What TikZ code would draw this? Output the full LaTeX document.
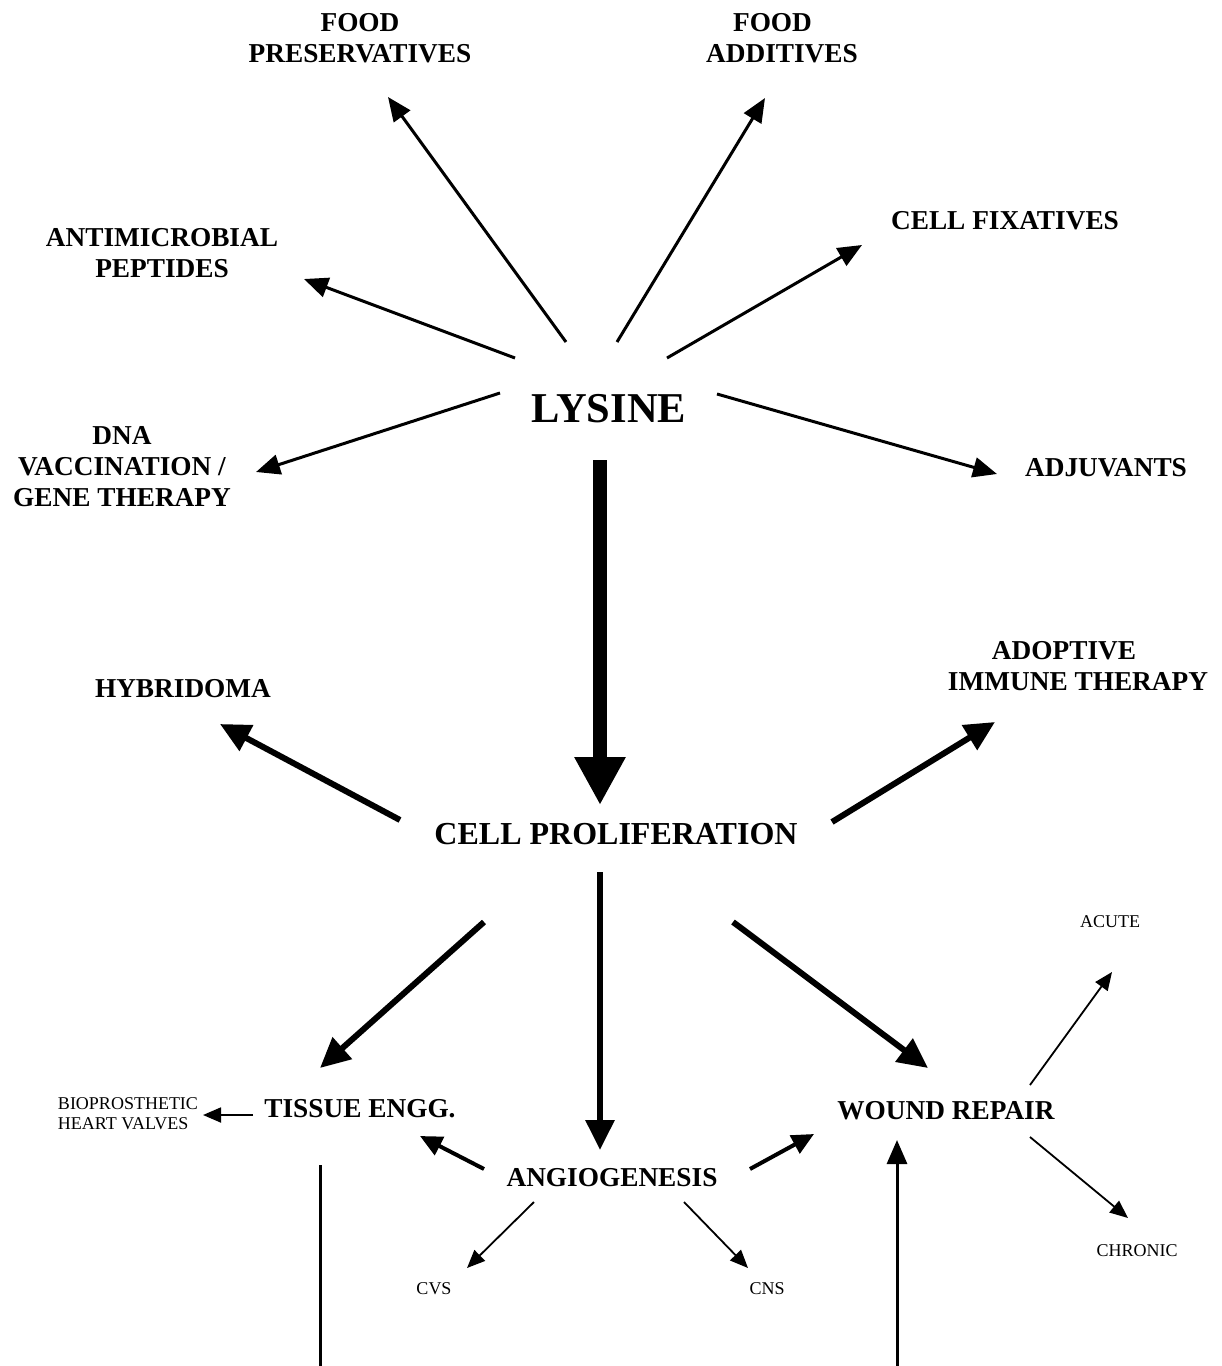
\documentclass[tikz,border=0pt]{standalone}
\usepackage{fontspec}
\setmainfont{Liberation Serif}
\usetikzlibrary{arrows.meta,calc}
\tikzset{
  big/.style={font=\bfseries\fontsize{27.3}{31}\selectfont, align=center, inner sep=0pt},
  huge/.style={font=\bfseries\fontsize{42.5}{48}\selectfont, inner sep=0pt},
  prolif/.style={font=\bfseries\fontsize{32}{38}\selectfont, inner sep=0pt},
  small/.style={font=\fontsize{18}{20}\selectfont, inner sep=0pt},
  arA/.style={line width=3pt, -{Triangle[length=24pt,width=20pt]}},
  arB/.style={line width=6pt, -{Triangle[length=30pt,width=28pt]}},
  arC/.style={line width=14pt, -{Triangle[length=48pt,width=48pt]}},
  arD/.style={line width=4pt, -{Triangle[length=22pt,width=20pt]}},
  arE/.style={line width=1.8pt, -{Triangle[length=18pt,width=15pt]}},
  plain/.style={line width=3pt},
}
\begin{document}
\begin{tikzpicture}[x=1pt,y=-1pt]
\useasboundingbox (0,0) rectangle (1222,1366);
% nodes
\node[big] (fp) at (360,38) {FOOD\\PRESERVATIVES};
\node[big] (fa) at (782,38) {FOOD\hspace*{19pt}\\ADDITIVES};
\node[big] (am) at (162,253) {ANTIMICROBIAL\\PEPTIDES};
\node[big] (cf) at (1005,221) {CELL FIXATIVES};
\node[huge] (lys) at (609,409) {LYSINE};
\node[big] (dna) at (122,467) {DNA\\VACCINATION /\\GENE THERAPY};
\node[big] (adj) at (1106,468) {ADJUVANTS};
\node[big] (hyb) at (183,689) {HYBRIDOMA};
\node[big] (ait) at (1078,666) {ADOPTIVE\hspace*{28pt}\\IMMUNE THERAPY};
\node[prolif] (cp) at (616,834) {CELL PROLIFERATION};
\node[big] (te) at (360,1109) {TISSUE ENGG.};
\node[small, align=left] (bio) at (128,1114) {BIOPROSTHETIC\\HEART VALVES};
\node[big] (wr) at (946,1111) {WOUND REPAIR};
\node[big] (ang) at (612,1178) {ANGIOGENESIS};
\node[small] (acu) at (1110,922) {ACUTE};
\node[small] (chr) at (1137,1251) {CHRONIC};
\node[small] (cvs) at (434,1289) {CVS};
\node[small] (cns) at (767,1289) {CNS};
\coordinate (bl) at (320,1366);
\coordinate (br) at (897,1366);
% arrows from lysine
\draw[arA] ($(lys)+(-43,-67)$) -- ($(fp)+(28,59)$);
\draw[arA] ($(lys)+(8,-67)$) -- ($(fa)+(-17,60)$);
\draw[arA] ($(lys)+(-94,-51)$) -- ($(am)+(142,26)$);
\draw[arA] ($(lys)+(58,-51)$) -- ($(cf)+(-143,24)$);
\draw[arA] ($(lys)+(-109,-16)$) -- ($(dna)+(134,5)$);
\draw[arA] ($(lys)+(108,-15)$) -- ($(adj)+(-109,6)$);
\draw[arC] ($(lys)+(-9,51)$) -- ($(cp)+(-16,-29)$);
% arrows from cell proliferation
\draw[arB] ($(cp)+(-216,-14)$) -- ($(hyb)+(37,35)$);
\draw[arB] ($(cp)+(216,-12)$) -- ($(ait)+(-83,56)$);
\draw[arB] ($(cp)+(-132,88)$) -- ($(te)+(-40,-41)$);
\draw[arB] ($(cp)+(-16,38)$) -- ($(ang)+(-12,-28)$);
\draw[arB] ($(cp)+(117,88)$) -- ($(wr)+(-18,-43)$);
% lower arrows
\draw[arE] ($(te)+(-107,6)$) -- ($(bio)+(75,1)$);
\draw[arD] ($(ang)+(-128,-9)$) -- ($(te)+(60,27)$);
\draw[arD] ($(ang)+(138,-9)$) -- ($(wr)+(-132,23)$);
\draw[arE] ($(ang)+(-78,24)$) -- ($(cvs)+(33,-21)$);
\draw[arE] ($(ang)+(72,24)$) -- ($(cns)+(-19,-21)$);
\draw[arE] ($(wr)+(84,-26)$) -- ($(acu)+(2,50)$);
\draw[arE] ($(wr)+(84,26)$) -- ($(chr)+(-9,-33)$);
\draw[plain] ($(te)+(-40,56)$) -- (bl);
\draw[plain, -{Triangle[length=24pt,width=20pt]}] (br) -- ($(wr)+(-49,29)$);
\end{tikzpicture}
\end{document}
